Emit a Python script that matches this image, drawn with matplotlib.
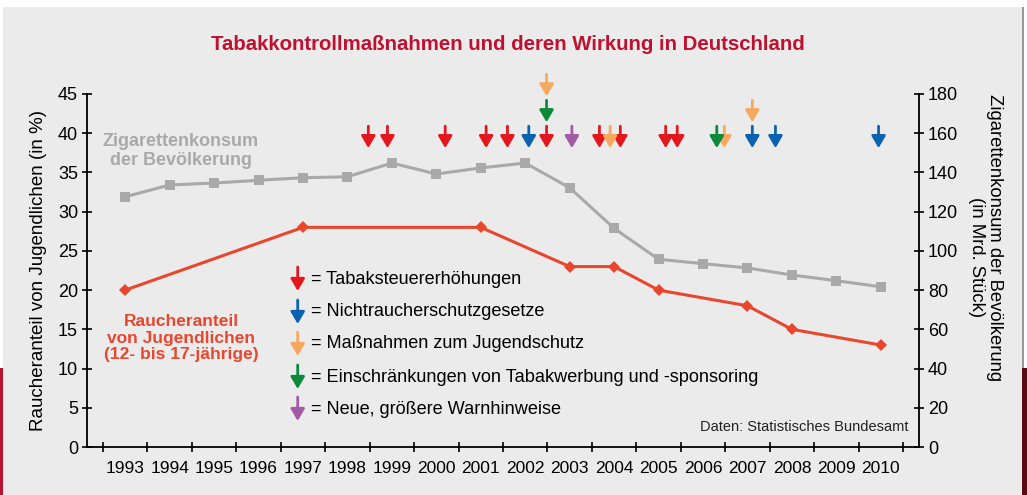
import matplotlib
matplotlib.use('Agg')
import matplotlib.pyplot as plt
from matplotlib.patches import Rectangle
from matplotlib.ticker import FixedLocator

plt.rcParams['font.family'] = ['Liberation Sans', 'DejaVu Sans']

# ---------------- data ----------------
years = list(range(1993, 2011))
year_labels = [str(y) for y in years]
consumption = [127.6, 133.6, 134.6, 136.0, 137.3, 137.8, 144.8, 139.2, 142.3,
               144.8, 132.2, 111.5, 95.7, 93.5, 91.3, 87.7, 84.8, 81.7]
youth_years = [1993, 1997, 2001, 2003, 2004, 2005, 2007, 2008, 2010]
youth_share = [20, 28, 28, 23, 23, 20, 18, 15, 13]

tax_dates = [1998.47, 1998.90, 2000.20, 2001.12, 2001.60, 2002.48, 2003.67,
             2004.14, 2005.16, 2005.42]
tax_rows = [0, 0, 0, 0, 0, 0, 0, 0, 0, 0]
smokefree_dates = [2002.08, 2007.11, 2007.63, 2009.95]
smokefree_rows = [0, 0, 0, 0]
youth_prot_dates = [2002.48, 2003.91, 2006.48, 2007.11]
youth_prot_rows = [2, 0, 0, 1]
ad_dates = [2002.48, 2006.31]
ad_rows = [1, 0]
warn_dates = [2003.05]
warn_rows = [0]

legend_labels = ['= Tabaksteuererhöhungen', '= Nichtraucherschutzgesetze',
                 '= Maßnahmen zum Jugendschutz',
                 '= Einschränkungen von Tabakwerbung und -sponsoring',
                 '= Neue, größere Warnhinweise']

C_RED = '#e3181f'
C_BLUE = '#0b62b0'
C_ORANGE = '#f6a95e'
C_GREEN = '#0c8a3a'
C_PURPLE = '#a15ca3'
C_LINE_RED = '#e8472e'
C_GRAY = '#a9a9a9'
C_TITLE = '#c0102f'
BG = '#ebebeb'

measures = [(tax_dates, tax_rows, C_RED), (smokefree_dates, smokefree_rows, C_BLUE),
            (youth_prot_dates, youth_prot_rows, C_ORANGE), (ad_dates, ad_rows, C_GREEN),
            (warn_dates, warn_rows, C_PURPLE)]

# ---------------- figure ----------------
W, H = 1027, 495
fig = plt.figure(figsize=(W / 100, H / 100), dpi=100)
fig.patch.set_facecolor('white')
fig.patches.append(Rectangle((3 / W, 0), 1019 / W, (H - 7) / H, transform=fig.transFigure,
                             facecolor=BG, edgecolor='none', zorder=-10))
fig.patches.append(Rectangle((0, 0), 3 / W, (H - 368) / H, transform=fig.transFigure,
                             facecolor='#b8132f', edgecolor='none', zorder=-9))
fig.patches.append(Rectangle((1022 / W, 0), 5 / W, (H - 368) / H, transform=fig.transFigure,
                             facecolor='#5c0a16', edgecolor='none', zorder=-9))
fig.patches.append(Rectangle((1022 / W, (H - 368) / H), 2 / W, (368 - 7) / H,
                             transform=fig.transFigure,
                             facecolor='#9a9a9a', edgecolor='none', zorder=-9))

ax = fig.add_axes([87 / W, 48 / H, 832 / W, 353 / H])
ax.set_facecolor('none')
ax2 = ax.twinx()
ax2.set_facecolor('none')

ax.set_xlim(1992.14, 2010.86)
ax.set_ylim(0, 45)
ax2.set_ylim(0, 180)

for a in (ax, ax2):
    a.spines['top'].set_visible(False)
ax.spines['right'].set_visible(False)
ax2.spines['left'].set_visible(False)
ax2.spines['bottom'].set_visible(False)
for s in ['left', 'bottom']:
    ax.spines[s].set_linewidth(1.3)
ax2.spines['right'].set_linewidth(1.3)

ax.set_yticks(range(0, 50, 5))
ax2.set_yticks(range(0, 200, 20))
ax.tick_params(axis='y', direction='inout', length=7, width=1.2, labelsize=13, pad=3)
ax2.tick_params(axis='y', direction='inout', length=7, width=1.2, labelsize=13, pad=3)

ax.set_xticks(years)
ax.set_xticklabels(year_labels)
ax.xaxis.set_minor_locator(FixedLocator([y - 0.5 for y in years] + [years[-1] + 0.5]))
ax.tick_params(axis='x', which='major', length=0, labelsize=12.5, pad=10)
ax.tick_params(axis='x', which='minor', direction='inout', length=7, width=1.2)

ax.set_ylabel('Raucheranteil von Jugendlichen (in %)', fontsize=13.5, labelpad=8)

fig.text(995 / W, 1 - 238 / H, 'Zigarettenkonsum der Bevölkerung', rotation=270,
         ha='center', va='center', fontsize=13.3)
fig.text(977 / W, 1 - 257 / H, '(in Mrd. Stück)', rotation=270,
         ha='center', va='center', fontsize=13.3)

# lines
ax2.plot(years, consumption, color=C_GRAY, lw=2.2, marker='s', markersize=7.5,
         markeredgewidth=0, zorder=3)
ax.plot(youth_years, youth_share, color=C_LINE_RED, lw=2.2, marker='D', markersize=6,
        markeredgewidth=0, zorder=4)

# arrows
ROW_STEP = 3.3
TAIL0 = 40.9
TIP0 = 38.1
astyle = '-|>,head_length=0.6,head_width=0.35'
for dates, rows, col in measures:
    for d, r in zip(dates, rows):
        ax.annotate('', xy=(d, TIP0 + ROW_STEP * r), xytext=(d, TAIL0 + ROW_STEP * r),
                    arrowprops=dict(arrowstyle=astyle, color=col, lw=2.0,
                                    shrinkA=0, shrinkB=0, mutation_scale=12),
                    annotation_clip=False, zorder=5)

# legend
leg_x = 297.7
leg_y = [279, 312, 344, 377, 409]
for (dates, rows, col), lab, yy in zip(measures, legend_labels, leg_y):
    ax.annotate('', xy=(leg_x / W, 1 - (yy + 12) / H), xytext=(leg_x / W, 1 - (yy - 12) / H),
                xycoords='figure fraction', textcoords='figure fraction',
                arrowprops=dict(arrowstyle=astyle, color=col, lw=2.0,
                                shrinkA=0, shrinkB=0, mutation_scale=12))
    fig.text(311 / W, 1 - yy / H, lab, ha='left', va='center', fontsize=13.1)

# texts
fig.text(508 / W, 1 - 45 / H, 'Tabakkontrollmaßnahmen und deren Wirkung in Deutschland',
         ha='center', va='center', fontsize=14.7, fontweight='bold', color=C_TITLE)
fig.text(181 / W, 1 - 151 / H, 'Zigarettenkonsum\nder Bevölkerung', ha='center',
         va='center', fontsize=13, fontweight='bold', color=C_GRAY, linespacing=1.1)
fig.text(181 / W, 1 - 338 / H, 'Raucheranteil\nvon Jugendlichen\n(12- bis 17-jährige)',
         ha='center', va='center', fontsize=12.5, fontweight='bold', color=C_LINE_RED,
         linespacing=1.12)
fig.text(908 / W, 1 - 427 / H, 'Daten: Statistisches Bundesamt', ha='right',
         va='center', fontsize=10.5, color='#222222')

fig.savefig('out.png', dpi=100, facecolor=fig.get_facecolor())
